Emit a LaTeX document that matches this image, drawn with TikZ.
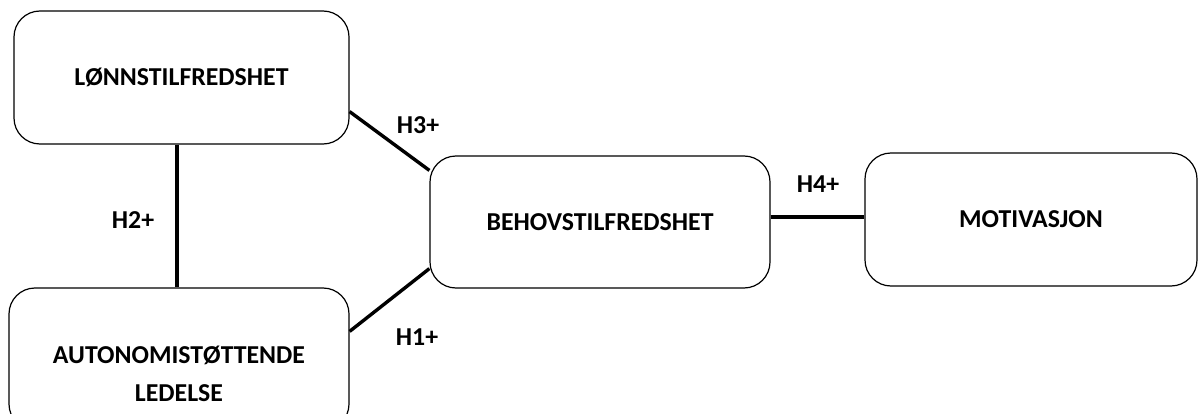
\documentclass[tikz,border=0pt]{standalone}
\usepackage{fontspec}
\setmainfont{Carlito}
\usetikzlibrary{calc}
\begin{document}
\begin{tikzpicture}[x=1pt,y=1pt,yscale=-1,xscale=1,
  box/.style={draw, line width=1.2pt, rounded corners=26pt, inner sep=0pt, align=center},
  boxtext/.style={font=\bfseries\fontsize{25.8}{38}\selectfont, align=center},
  link/.style={line width=3.4pt},
  hyp/.style={font=\bfseries\fontsize{25.8}{29}\selectfont, inner sep=0.75pt}]
\useasboundingbox (0,0) rectangle (1198,414);

%Shape: Rounded Rect [id:lon]
\node [box, boxtext, minimum width=335, minimum height=133] (lon) at (181.5,77.5) {LØNNSTILFREDSHET};
%Shape: Rounded Rect [id:aut]
\node [box, minimum width=340, minimum height=142] (aut) at (179,359) {};
%Shape: Rounded Rect [id:beh]
\node [box, boxtext, minimum width=340, minimum height=132] (beh) at (600,222) {BEHOVSTILFREDSHET};
%Shape: Rounded Rect [id:mot]
\node [box, boxtext, minimum width=332, minimum height=133] (mot) at (1031,219.5) {MOTIVASJON};

% Text Node
\node [boxtext] (autText) at (179,374) {AUTONOMISTØTTENDE\\LEDELSE};

%Straight Lines
\draw [link] ($(lon.south)+(-4.5,0)$) -- ($(aut.north)+(-2,0)$);
\draw [link] ($(lon.south east)+(0,-33)$) -- ($(beh.north west)+(0,15)$);
\draw [link] ($(aut.north east)+(0,44)$) -- ($(beh.south west)+(0,-20)$);
\draw [link] ($(beh.east)+(0,-5)$) -- ($(mot.west)+(0,-2.5)$);

% Text Node
\node [hyp] (h2) at (133,220) {H2+};
% Text Node
\node [hyp] (h3) at (418,125) {H3+};
% Text Node
\node [hyp] (h1) at (417,337) {H1+};
% Text Node
\node [hyp] (h4) at (818,184) {H4+};

\end{tikzpicture}
\end{document}
